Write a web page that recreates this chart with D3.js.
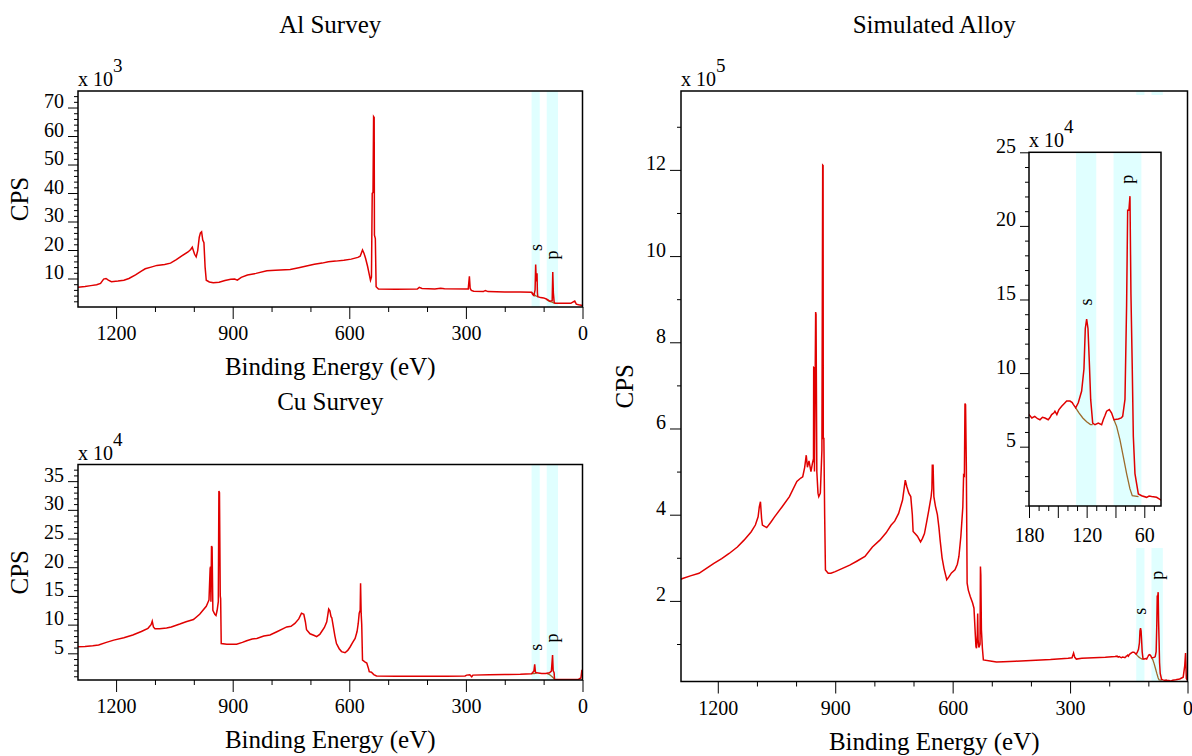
<!DOCTYPE html>
<html>
<head>
<meta charset="utf-8">
<script src="https://cdn.jsdelivr.net/npm/d3@7"></script>
<style>
  html, body { margin: 0; padding: 0; background: #fff; }
  svg { display: block; font-family: "Liberation Serif", "Times New Roman", serif; }
  svg text { font-family: "Liberation Serif", "Times New Roman", serif; }
</style>
</head>
<body>
<svg id="chart" width="1192" height="756"></svg>
<script>
// ---- data: [binding energy (eV), counts in axis units] ----
// Al survey, x10^3 CPS
const alSurvey = [
  [1300, 6.9], [1280, 7.2], [1265, 7.5], [1250, 7.8], [1240, 8.3], [1232, 9.8], [1226, 10.0], [1220, 9.4],
  [1212, 8.9], [1195, 9.1], [1180, 9.4], [1167, 10.0], [1150, 11.3], [1135, 12.6], [1125, 13.4], [1110, 14.0],
  [1095, 14.6], [1075, 14.9], [1060, 15.4], [1045, 16.6], [1030, 18.0], [1015, 19.3], [1008, 20.2], [1004, 21.0],
  [998, 18.5], [994, 17.6], [990, 19.8], [986, 24.5], [983, 26.0], [980, 26.4], [977, 23.5], [974, 22.6],
  [971, 14], [968, 9.4], [960, 8.8], [950, 8.5], [935, 8.7], [920, 9.3], [905, 9.7], [895, 9.8], [888, 9.4],
  [878, 10.4], [862, 11.2], [840, 11.8], [812, 12.7], [790, 12.9], [752, 13.2], [730, 13.8], [713, 14.3],
  [690, 15.0], [670, 15.4], [654, 15.9], [635, 16.1], [614, 16.4], [595, 16.8], [578, 17.4], [572, 17.8],
  [566, 20.0], [562, 18.8], [558, 17.0], [553, 14.3], [548, 11], [545.5, 9.4], [543, 10.5], [541, 39.9],
  [539, 40.2], [537.5, 66.8], [536, 66.5], [535.3, 25.2], [533, 24], [531, 7.1], [525, 6.3], [480, 6.2],
  [425, 6.3], [420, 6.9], [413, 6.5], [380, 6.3], [365, 6.6], [355, 6.4], [294, 6.3], [291, 10.8], [289, 6.5],
  [286, 5.8], [280, 5.5], [255, 5.4], [250, 5.8], [243, 5.4], [200, 5.3], [160, 5.3], [131, 5.2], [128, 4.4],
  [125, 4.0], [122, 6.0], [120.5, 14.9], [119, 9], [117, 11.8], [116, 5], [115, 3.6], [108, 3.3], [100, 3.2],
  [93, 2.8], [88, 2.4], [84, 2.0], [78, 2.2], [76.5, 12.3], [75, 5], [73, 1.8], [71, 1.3], [50, 1.3], [30, 1.3],
  [24, 1.8], [20, 2.1], [16, 1.0], [10, 0.8], [0, 0.5]
];
const alBgS = [[131, 5.2], [125, 4.4], [120, 3.9], [115, 3.6]];
const alBgP = [[92, 2.6], [85, 2.0], [78, 1.7], [72, 1.3]];

// Cu survey, x10^4 CPS
const cuSurvey = [
  [1300, 6.15], [1280, 6.2], [1260, 6.3], [1245, 6.45], [1225, 6.9], [1206, 7.3], [1180, 7.7], [1157, 8.2],
  [1135, 8.8], [1118, 9.35], [1110, 10.0], [1107, 10.6], [1104, 9.6], [1100, 9.3], [1088, 9.3], [1070, 9.4],
  [1058, 9.6], [1036, 10.1], [1020, 10.5], [1001, 10.9], [985, 11.8], [968, 13.2], [961, 14.3], [958, 19.8],
  [957, 20.1], [956, 14], [954.5, 23.7], [953, 23.5], [951, 12.5], [946, 11.8], [943, 11.6], [940, 12.5],
  [937, 14], [935.5, 33.3], [934, 33], [932, 15], [931, 14.5], [929.5, 6.7], [915, 6.6], [890, 6.6], [875, 6.9],
  [864, 7.2], [850, 7.5], [838, 7.6], [820, 8.0], [804, 8.2], [785, 8.8], [770, 9.3], [761, 9.6], [750, 9.7],
  [740, 10.2], [730, 11.0], [723, 12.0], [717, 11.8], [713, 10.5], [710, 9.1], [701, 8.4], [690, 8.1],
  [684, 7.9], [676, 8.3], [671, 8.8], [664, 9.5], [658, 10.5], [653, 12.7], [650, 12.4], [647, 11.4],
  [645, 11.2], [641, 9.6], [637, 8.0], [633, 6.7], [626, 5.8], [620, 5.3], [611, 5.1], [604, 5.5], [598, 6.1],
  [592, 6.8], [585, 7.6], [580, 8.8], [577, 10.2], [574.5, 12], [572, 12.5], [571, 17.2], [569.5, 12],
  [568, 10], [566, 3.8], [560, 3.5], [555, 3.3], [550, 2.2], [548.7, 1.8], [543, 1.7], [537, 1.3],
  [530, 1.05], [480, 1.0], [420, 1.0], [350, 1.0], [302, 1.05], [298, 1.2], [290, 1.25], [285, 0.9],
  [282, 1.2], [240, 1.25], [200, 1.3], [160, 1.35], [131, 1.45], [125, 1.9], [123, 3.1], [121, 1.7],
  [118, 1.6], [105, 1.5], [95, 1.5], [85, 1.6], [80, 1.9], [77, 4.7], [75.5, 2.0], [73, 1.6], [72, 0.5],
  [60, 0.45], [30, 0.45], [10, 0.5], [4, 0.7], [1.5, 2.1], [0, 1.5]
];
const cuBgS = [[131, 1.45], [124, 1.45], [118, 1.55]];
const cuBgP = [[92, 1.5], [85, 1.3], [78, 0.9], [72, 0.5]];

// Simulated alloy, x10^4 CPS (main axis shows x10^5)
const alloySurvey = [
  [1295, 25.0], [1290, 25.2], [1270, 25.8], [1248, 26.4], [1230, 27.5], [1210, 28.7], [1190, 29.8],
  [1171, 31.0], [1150, 32.5], [1133, 34.1], [1115, 36.0], [1104, 37.6], [1097, 39.5], [1094, 41.8],
  [1091, 43], [1088, 39], [1086, 37.6], [1075, 37.0], [1065, 38.2], [1055, 39.5], [1036, 41.8], [1017, 44.2],
  [998, 47.7], [988, 48.5], [983, 48.8], [978, 51], [974, 53.8], [971, 51], [967, 52.5], [962, 50.0],
  [958, 52], [955.5, 53], [955, 74.1], [954, 74], [953, 50], [950, 87.0], [949, 86.5], [947, 50], [944, 45],
  [942, 44.2], [938, 45], [934, 55], [932, 121.1], [931, 121], [930.5, 57.7], [929, 57.7], [927, 40],
  [925, 27.2], [918, 26.4], [911, 26.4], [900, 26.8], [880, 27.6], [863, 28.3], [845, 29.2], [824, 30.3],
  [805, 32.5], [786, 34.1], [770, 35.8], [757, 37.6], [748, 38.5], [738, 40.3], [728, 43.4], [721, 48.0],
  [717, 46.5], [712, 45], [707, 44.2], [703, 40], [701, 36.1], [695, 35.5], [690, 35.0], [682, 33.7],
  [677, 34.5], [672, 35.6], [666, 38.5], [661, 41.0], [655, 44.2], [653, 46], [652, 51.5], [650, 51.5],
  [648, 44.2], [644, 42], [639, 40.0], [635, 37], [632, 34.1], [627, 30], [622, 27.5], [615, 24.9],
  [610, 25.5], [603, 26.5], [594, 27.2], [588, 28.5], [584, 30.3], [579, 35], [574, 41.8], [572, 49.2],
  [570, 49], [568.5, 65.8], [567, 65.5], [565, 51.1], [563, 24.1], [560, 22.5], [555, 21.0], [549, 19.5],
  [545.5, 18.3], [542, 12], [540.5, 9.4], [539, 9.0], [537, 12], [536, 17.1], [535, 11], [533, 9.2],
  [530, 10], [529, 28.0], [528, 26], [526.5, 13.3], [524, 9], [521.5, 6.3], [500, 6.0], [488, 5.8],
  [470, 5.9], [440, 6.0], [400, 6.2], [350, 6.4], [305, 6.7], [295, 6.8], [291, 7.9], [288, 6.9],
  [284, 6.5], [270, 6.7], [240, 6.8], [210, 6.9], [185, 7.1],
  [180, 7.18], [177, 6.95], [174, 7.06], [171, 6.9], [168.6, 6.83], [166, 7.0], [163.4, 6.95], [160, 6.83],
  [158, 7.0], [156.4, 7.18], [154, 7.3], [153, 7.41], [151, 7.18], [149, 7.5], [146, 7.75], [143, 7.95],
  [140.8, 8.1], [137.3, 8.1], [135, 8.0], [133.9, 7.87], [131.4, 7.64], [128.7, 7.98], [125.2, 8.78],
  [122.8, 10.28], [121.4, 13.03], [120, 13.67], [118.6, 13.03], [117.2, 10.73], [115.8, 8.21], [113.7, 6.6],
  [111.3, 6.49], [107.9, 6.6], [104.4, 6.49], [102.7, 6.83], [101, 7.1], [99.2, 7.41], [96.4, 7.52],
  [94, 7.29], [91.6, 6.83], [87, 6.88], [84, 6.95], [82.5, 7.06], [80.1, 8.21], [78.4, 14.63], [77.3, 21.06],
  [76, 21.06], [74.9, 22.02], [73.9, 15.4], [72.5, 10.28], [71.4, 5.69], [69.7, 3.17], [66.2, 1.79],
  [62.8, 1.67], [57.6, 1.56], [55, 1.65], [52.4, 1.61], [47.2, 1.56], [42.8, 1.38],
  [38, 1.6], [30, 1.7], [20, 1.9], [11, 2.3], [7, 5], [5, 7.9], [3, 2], [0, 1.6]
];
const alloyBgS = [[131.4, 7.64], [128, 7.3], [124, 6.95], [120, 6.7], [116, 6.5], [113.7, 6.5]];
const alloyBgP = [[91.6, 6.83], [88.8, 6.38], [85.3, 5.46], [81.8, 4.31], [78.4, 3.17], [74.9, 2.13], [72.5, 1.67], [66, 1.6]];

// integration regions (eV) and their labels
const bands = [[110, 131], [63, 92]];
const bandNames = ['s', 'p'];

const LINE = '#e00000';
const BG = '#9c6a2a';
const BAND = '#e0ffff';
const FONT = '"Liberation Serif", "Times New Roman", serif';

const svg = d3.select('#chart');

function drawPanel(cfg) {
  const { l, t, r, b } = cfg.box;
  const g = svg.append('g');
  const x = d3.scaleLinear().domain(cfg.x).range([l, r]);
  const y = d3.scaleLinear().domain(cfg.y).range([b, t]);
  const div = cfg.div || 1;

  if (cfg.backdrop) {
    g.append('rect')
      .attr('x', cfg.backdrop[0]).attr('y', cfg.backdrop[1])
      .attr('width', cfg.backdrop[2]).attr('height', cfg.backdrop[3])
      .attr('fill', '#fff');
  }

  const clipId = 'clip-' + cfg.id;
  g.append('clipPath').attr('id', clipId)
    .append('rect').attr('x', l).attr('y', t).attr('width', r - l).attr('height', b - t);

  const plot = g.append('g').attr('clip-path', `url(#${clipId})`);

  // shaded regions
  plot.selectAll('rect.band').data(bands).enter()
    .append('rect')
    .attr('class', 'band')
    .attr('x', d => x(d[1]))
    .attr('width', d => x(d[0]) - x(d[1]))
    .attr('y', t).attr('height', b - t)
    .attr('fill', BAND);

  const line = d3.line().x(d => x(d[0])).y(d => y(d[1] / div));

  plot.selectAll('path.bg').data(cfg.bg).enter()
    .append('path')
    .attr('class', 'bg')
    .attr('d', line)
    .attr('fill', 'none')
    .attr('stroke', BG)
    .attr('stroke-width', 1.3);

  plot.append('path')
    .datum(cfg.data.filter(d => d[0] <= cfg.x[0] + 5 && d[0] >= cfg.x[1] - 5))
    .attr('d', line)
    .attr('fill', 'none')
    .attr('stroke', LINE)
    .attr('stroke-width', 1.5)
    .attr('stroke-linejoin', 'miter');

  // peak labels above each region
  bands.forEach((band, i) => {
    const inBand = cfg.data.filter(d => d[0] >= band[0] && d[0] <= band[1]);
    const peak = d3.max(inBand, d => d[1] / div);
    const cx = x((band[0] + band[1]) / 2);
    const cy = y(peak) - 17;
    g.append('text')
      .attr('transform', `translate(${cx},${cy}) rotate(-90)`)
      .attr('text-anchor', 'middle')
      .attr('dominant-baseline', 'central')
      .attr('font-size', 18)
      .text(bandNames[i]);
  });

  // frame
  g.append('rect')
    .attr('x', l).attr('y', t).attr('width', r - l).attr('height', b - t)
    .attr('fill', 'none').attr('stroke', '#000').attr('stroke-width', 1.5);

  const isMult = (v, s) => Math.abs(v / s - Math.round(v / s)) < 1e-6;
  const styleAxis = a => {
    a.select('.domain').remove();
    a.attr('font-family', FONT).attr('font-size', 20);
    a.selectAll('.tick line').attr('stroke', '#000');
    a.selectAll('text').attr('fill', '#000');
  };

  // x axis ticks
  const xLo = Math.min(cfg.x[0], cfg.x[1]), xHi = Math.max(cfg.x[0], cfg.x[1]);
  const xAll = d3.range(Math.ceil(xLo / cfg.xMinor) * cfg.xMinor, xHi + 0.01, cfg.xMinor);
  const xMinorVals = xAll.filter(v => !isMult(v, cfg.xMajor));
  const xMajorVals = xAll.filter(v => isMult(v, cfg.xMajor));

  g.append('g').attr('transform', `translate(0,${b})`)
    .call(d3.axisBottom(x).tickValues(xMinorVals).tickSize(5).tickFormat(''))
    .call(styleAxis);
  g.append('g').attr('transform', `translate(0,${b})`)
    .call(d3.axisBottom(x).tickValues(xMajorVals).tickSize(12)
      .tickFormat(v => isMult(v, cfg.xLabel) ? String(v) : ''))
    .call(styleAxis)
    .selectAll('text').attr('y', cfg.xLabelOffset || 33).attr('dy', 0);

  // y axis ticks
  const yAll = d3.range(Math.ceil(cfg.y[0] / cfg.yMinor) * cfg.yMinor, cfg.y[1] + 0.001, cfg.yMinor)
    .filter(v => v > 0);
  const yMinorVals = yAll.filter(v => !isMult(v, cfg.yMajor));
  const yMajorVals = yAll.filter(v => isMult(v, cfg.yMajor));

  g.append('g').attr('transform', `translate(${l},0)`)
    .call(d3.axisLeft(y).tickValues(yMinorVals).tickSize(4).tickFormat(''))
    .call(styleAxis);
  g.append('g').attr('transform', `translate(${l},0)`)
    .call(d3.axisLeft(y).tickValues(yMajorVals).tickSize(cfg.yTick || 10).tickPadding(4).tickFormat(d3.format('d')))
    .call(styleAxis)
    .selectAll('text').attr('dy', 0);

  // exponent
  const ex = g.append('text').attr('x', l).attr('y', t - 5).attr('font-size', 20);
  ex.append('tspan').text('x 10');
  ex.append('tspan').attr('dy', -14).attr('font-size', 19).text(cfg.exp);

  if (cfg.title) {
    g.append('text')
      .attr('x', (l + r) / 2).attr('y', cfg.titleY)
      .attr('text-anchor', 'middle').attr('font-size', 25)
      .text(cfg.title);
  }
  if (cfg.xTitle) {
    g.append('text')
      .attr('x', (l + r) / 2).attr('y', b + 68)
      .attr('text-anchor', 'middle').attr('font-size', 25)
      .text(cfg.xTitle);
  }
  if (cfg.yTitle) {
    g.append('text')
      .attr('transform', `translate(${cfg.yTitleX},${(t + b) / 2}) rotate(-90)`)
      .attr('text-anchor', 'middle').attr('font-size', 25)
      .text(cfg.yTitle);
  }
}

drawPanel({
  id: 'al', title: 'Al Survey', titleY: 33, xTitle: 'Binding Energy (eV)', yTitle: 'CPS', yTitleX: 28,
  box: { l: 78, t: 91, r: 582.5, b: 307 }, x: [1298, 0], y: [0, 75.8], exp: '3',
  data: alSurvey, bg: [alBgS, alBgP],
  xMinor: 100, xMajor: 300, xLabel: 300, yMinor: 2, yMajor: 10
});

drawPanel({
  id: 'cu', title: 'Cu Survey', titleY: 410, xTitle: 'Binding Energy (eV)', yTitle: 'CPS', yTitleX: 28,
  box: { l: 78, t: 464.5, r: 582.5, b: 680 }, x: [1298, 0], y: [0.35, 37.9], exp: '4',
  data: cuSurvey, bg: [cuBgS, cuBgP],
  xMinor: 100, xMajor: 300, xLabel: 300, yMinor: 1, yMajor: 5
});

drawPanel({
  id: 'alloy', title: 'Simulated Alloy', titleY: 33, xTitle: 'Binding Energy (eV)', yTitle: 'CPS', yTitleX: 633,
  box: { l: 681, t: 91, r: 1187.5, b: 681.5 }, x: [1294, 0], y: [0.13, 13.83], exp: '5', div: 10,
  data: alloySurvey, bg: [alloyBgS, alloyBgP],
  xMinor: 100, xMajor: 300, xLabel: 300, yMinor: 1, yMajor: 2, yTick: 11
});

// zoomed inset of the Al 2s / 2p region
drawPanel({
  id: 'inset', backdrop: [990, 95, 182, 453],
  box: { l: 1029, t: 152.3, r: 1161, b: 506 }, x: [180, 42.6], y: [0.97, 25], exp: '4',
  data: alloySurvey, bg: [alloyBgS, alloyBgP], xLabelOffset: 36,
  xMinor: 10, xMajor: 30, xLabel: 60, yMinor: 1, yMajor: 5, yTick: 9
});
</script>
</body>
</html>
